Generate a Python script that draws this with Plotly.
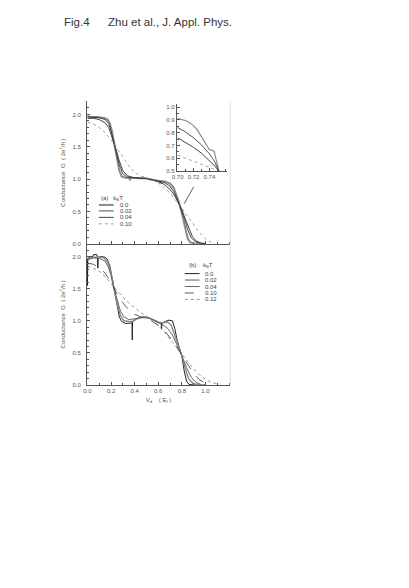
import plotly.graph_objects as go

W, H = 409, 588
def px(x): return x / W
def py(y): return 1 - y / H

# ---------------- data: panel (a) ----------------
v_a00 = [0, 0.03, 0.08, 0.12, 0.15, 0.17, 0.19, 0.21, 0.23, 0.25, 0.27, 0.29, 0.32, 0.355, 0.36, 0.365, 0.40, 0.45, 0.50, 0.55, 0.60, 0.615, 0.62, 0.625, 0.66, 0.70, 0.73, 0.75, 0.77, 0.79, 0.81, 0.83, 0.85, 0.87, 0.90, 1.0]
g_a00 = [1.97, 1.96, 1.96, 1.95, 1.94, 1.92, 1.86, 1.72, 1.52, 1.32, 1.13, 1.04, 1.02, 1.02, 0.98, 1.02, 1.02, 1.02, 1.01, 0.99, 0.98, 0.97, 0.93, 0.97, 0.96, 0.93, 0.87, 0.78, 0.67, 0.55, 0.40, 0.22, 0.08, 0.02, 0.005, 0.0]
v_a02 = [0, 0.05, 0.10, 0.15, 0.18, 0.20, 0.22, 0.24, 0.27, 0.30, 0.34, 0.40, 0.50, 0.60, 0.65, 0.70, 0.73, 0.76, 0.79, 0.82, 0.85, 0.88, 0.92, 0.96, 1.0]
g_a02 = [1.96, 1.96, 1.95, 1.92, 1.86, 1.74, 1.58, 1.45, 1.22, 1.08, 1.03, 1.02, 1.01, 0.97, 0.95, 0.89, 0.81, 0.69, 0.56, 0.40, 0.22, 0.09, 0.025, 0.005, 0.0]
v_a04 = [0, 0.05, 0.10, 0.15, 0.18, 0.20, 0.22, 0.24, 0.27, 0.30, 0.34, 0.40, 0.50, 0.60, 0.65, 0.70, 0.74, 0.77, 0.80, 0.83, 0.86, 0.89, 0.92, 0.96, 1.0]
g_a04 = [1.94, 1.94, 1.92, 1.87, 1.80, 1.70, 1.59, 1.47, 1.28, 1.13, 1.05, 1.02, 1.01, 0.96, 0.92, 0.84, 0.74, 0.64, 0.53, 0.38, 0.23, 0.11, 0.045, 0.012, 0.0]
v_a10 = [0, 0.05, 0.10, 0.15, 0.20, 0.24, 0.28, 0.32, 0.36, 0.40, 0.45, 0.50, 0.55, 0.60, 0.65, 0.70, 0.75, 0.80, 0.85, 0.90, 0.95, 1.0, 1.05, 1.08]
g_a10 = [1.88, 1.85, 1.80, 1.72, 1.61, 1.50, 1.38, 1.27, 1.18, 1.10, 1.05, 1.02, 0.99, 0.94, 0.87, 0.78, 0.67, 0.55, 0.42, 0.29, 0.17, 0.08, 0.02, 0.0]

# inset of panel (a)
vi_00 = [0.700, 0.705, 0.710, 0.715, 0.720, 0.725, 0.730, 0.735, 0.7396, 0.7459, 0.749, 0.752]
gi_00 = [0.91, 0.905, 0.895, 0.878, 0.855, 0.82, 0.77, 0.72, 0.67, 0.656, 0.58, 0.50]
vi_02 = [0.700, 0.710, 0.720, 0.730, 0.740, 0.746, 0.752]
gi_02 = [0.84, 0.805, 0.76, 0.705, 0.635, 0.58, 0.50]
vi_04 = [0.700, 0.710, 0.720, 0.730, 0.740, 0.746, 0.752]
gi_04 = [0.76, 0.725, 0.685, 0.64, 0.585, 0.545, 0.50]
vi_10 = [0.700, 0.710, 0.720, 0.730, 0.740, 0.752]
gi_10 = [0.625, 0.602, 0.578, 0.553, 0.528, 0.50]

# ---------------- data: panel (b) ----------------
v_b00 = [0, 0.0, 0.003, 0.03, 0.045, 0.05, 0.08, 0.085, 0.088, 0.091, 0.12, 0.15, 0.17, 0.19, 0.21, 0.23, 0.25, 0.27, 0.29, 0.32, 0.35, 0.378, 0.38, 0.382, 0.40, 0.44, 0.48, 0.52, 0.56, 0.60, 0.625, 0.628, 0.631, 0.66, 0.69, 0.72, 0.74, 0.76, 0.78, 0.80, 0.82, 0.84, 0.86, 0.90, 1.0]
g_b00 = [1.97, 1.55, 1.97, 2.0, 2.0, 2.03, 2.03, 1.99, 1.82, 1.99, 2.0, 1.99, 1.95, 1.85, 1.66, 1.45, 1.22, 1.06, 0.99, 0.96, 0.96, 0.97, 0.70, 0.98, 1.02, 1.05, 1.06, 1.05, 1.01, 0.97, 0.96, 0.87, 0.96, 0.99, 1.01, 1.0, 0.88, 0.70, 0.58, 0.45, 0.22, 0.06, 0.01, 0.0, 0.0]
v_b02 = [0, 0.05, 0.10, 0.14, 0.17, 0.20, 0.22, 0.25, 0.28, 0.31, 0.35, 0.38, 0.42, 0.47, 0.52, 0.56, 0.60, 0.64, 0.68, 0.71, 0.74, 0.77, 0.80, 0.83, 0.86, 0.90, 0.95]
g_b02 = [1.96, 1.99, 1.99, 1.98, 1.92, 1.75, 1.55, 1.28, 1.08, 1.0, 0.99, 0.99, 1.03, 1.06, 1.05, 1.02, 0.98, 0.97, 0.98, 0.93, 0.78, 0.62, 0.46, 0.25, 0.09, 0.02, 0.0]
v_b04 = [0, 0.05, 0.10, 0.15, 0.18, 0.20, 0.22, 0.25, 0.28, 0.31, 0.35, 0.40, 0.46, 0.52, 0.58, 0.63, 0.68, 0.72, 0.76, 0.80, 0.84, 0.88, 0.92, 0.96]
g_b04 = [1.95, 1.98, 1.97, 1.93, 1.82, 1.70, 1.53, 1.32, 1.15, 1.06, 1.02, 1.03, 1.05, 1.04, 1.0, 0.95, 0.88, 0.78, 0.63, 0.46, 0.27, 0.12, 0.04, 0.01]
v_b10 = [0, 0.05, 0.10, 0.15, 0.20, 0.22, 0.25, 0.30, 0.35, 0.40, 0.45, 0.50, 0.55, 0.60, 0.65, 0.70, 0.75, 0.80, 0.85, 0.90, 0.95, 1.0, 1.05]
g_b10 = [1.90, 1.88, 1.83, 1.74, 1.60, 1.52, 1.42, 1.28, 1.17, 1.10, 1.06, 1.03, 0.99, 0.93, 0.85, 0.74, 0.61, 0.46, 0.31, 0.18, 0.08, 0.03, 0.01]
v_b12 = [0, 0.05, 0.10, 0.15, 0.20, 0.25, 0.30, 0.35, 0.40, 0.45, 0.50, 0.55, 0.60, 0.65, 0.70, 0.75, 0.80, 0.85, 0.90, 0.95, 1.0, 1.05, 1.1]
g_b12 = [1.85, 1.82, 1.77, 1.69, 1.58, 1.47, 1.37, 1.28, 1.20, 1.13, 1.07, 1.00, 0.93, 0.83, 0.72, 0.60, 0.48, 0.36, 0.25, 0.16, 0.09, 0.04, 0.02]

labels_a = ["0.0", "0.02", "0.04", "0.10"]
labels_b = ["0.0", "0.02", "0.04", "0.10", "0.12"]

x_ticks = [0.0, 0.2, 0.4, 0.6, 0.8, 1.0]
y_ticks = [0.0, 0.5, 1.0, 1.5, 2.0]
inset_xticks = [0.70, 0.72, 0.74]
inset_yticks = [0.5, 0.6, 0.7, 0.8, 0.9, 1.0]

# arrow in panel (a): from label position to the crossing point
arrow_v = [0.90, 0.82]
arrow_g = [0.88, 0.62]

# ---------------- styles ----------------
sty_a = [dict(color="#8a8a8a", width=2.0, dash="solid"),
         dict(color="#222222", width=0.8, dash="solid"),
         dict(color="#444444", width=1.0, dash="solid"),
         dict(color="#888888", width=0.8, dash="dot")]
sty_b = [dict(color="#222222", width=1.0, dash="solid"),
         dict(color="#8a8a8a", width=1.4, dash="solid"),
         dict(color="#666666", width=1.0, dash="solid"),
         dict(color="#333333", width=0.8, dash="dash"),
         dict(color="#777777", width=0.8, dash="dot")]

fig = go.Figure()

for (v, g), s in zip([(v_a00, g_a00), (v_a02, g_a02), (v_a04, g_a04), (v_a10, g_a10)], sty_a):
    fig.add_trace(go.Scatter(x=v, y=g, mode="lines", line=s, xaxis="x", yaxis="y", showlegend=False))
for (v, g), s in zip([(vi_00, gi_00), (vi_02, gi_02), (vi_04, gi_04), (vi_10, gi_10)], sty_a):
    s2 = dict(s); s2["width"] = min(s["width"], 1.2)
    fig.add_trace(go.Scatter(x=v, y=g, mode="lines", line=s2, xaxis="x3", yaxis="y3", showlegend=False))
for (v, g), s in zip([(v_b00, g_b00), (v_b02, g_b02), (v_b04, g_b04), (v_b10, g_b10), (v_b12, g_b12)], sty_b):
    fig.add_trace(go.Scatter(x=v, y=g, mode="lines", line=s, xaxis="x2", yaxis="y2", showlegend=False))
fig.add_trace(go.Scatter(x=arrow_v, y=arrow_g, mode="lines", line=dict(color="#333333", width=0.8),
                         xaxis="x", yaxis="y", showlegend=False))

FONT = "Liberation Sans, Arial, sans-serif"
tickfont = dict(family=FONT, size=6, color="#555555")
axcol = "#555555"

x_dom = [px(83), px(228)]
common_x = dict(range=[-0.004, 1.21], domain=x_dom, showline=True, linecolor=axcol, linewidth=1,
                ticks="inside", ticklen=3, tickcolor=axcol, tickvals=x_ticks, tickformat=".1f",
                minor=dict(dtick=0.1, ticks="inside", ticklen=2, tickcolor=axcol),
                showgrid=False, zeroline=False, tickfont=tickfont)
common_y = dict(range=[0, 2.2], showline=True, linecolor=axcol, linewidth=1,
                ticks="inside", ticklen=3, tickcolor=axcol, tickvals=y_ticks, tickformat=".1f",
                minor=dict(dtick=0.1, ticks="inside", ticklen=2, tickcolor=axcol),
                showgrid=False, zeroline=False, tickfont=tickfont, ticklabelstandoff=4,
                title=dict(text="Conductance  G  ( 2e<sup>2</sup>/h )", font=dict(family=FONT, size=6, color="#555555"), standoff=6))

fig.update_layout(
    width=W, height=H, margin=dict(l=0, r=0, t=0, b=0),
    paper_bgcolor="white", plot_bgcolor="rgba(0,0,0,0)",
    xaxis=dict(common_x, anchor="y", showticklabels=False),
    yaxis=dict(common_y, domain=[py(245), py(102)], anchor="x"),
    xaxis2=dict(common_x, anchor="y2",
                title=dict(text="V<sub>d</sub>    ( E<sub>f</sub> )", font=dict(family=FONT, size=6, color="#555555"), standoff=4)),
    yaxis2=dict(common_y, domain=[py(387), py(245)], anchor="x2"),
    xaxis3=dict(range=[0.699, 0.7625], domain=[px(174), px(225)], anchor="y3", showline=True, linecolor=axcol,
                linewidth=1, ticks="inside", ticklen=3, tickcolor=axcol, tickvals=inset_xticks, tickformat=".2f",
                minor=dict(dtick=0.01, ticks="inside", ticklen=2, tickcolor=axcol),
                showgrid=False, zeroline=False, tickfont=tickfont),
    yaxis3=dict(range=[0.5, 1.02], domain=[py(172), py(105)], anchor="x3", showline=True, linecolor=axcol,
                linewidth=1, ticks="inside", ticklen=3, tickcolor=axcol, tickvals=inset_yticks, tickformat=".1f",
                minor=dict(dtick=0.05, ticks="inside", ticklen=2, tickcolor=axcol),
                showgrid=False, zeroline=False, tickfont=tickfont),
    showlegend=False,
)

annots = []
shapes = []
annots.append(dict(text="Fig.4", x=px(58), y=py(22), xref="paper", yref="paper",
                   xanchor="left", yanchor="middle", showarrow=False, font=dict(family=FONT, size=11.5, color="#333333")))
annots.append(dict(text="Zhu et al., J. Appl. Phys.", x=px(102), y=py(22), xref="paper", yref="paper",
                   xanchor="left", yanchor="middle", showarrow=False, font=dict(family=FONT, size=11.5, color="#333333")))

# legend (a)
annots.append(dict(text="(a)   k<sub>B</sub>T", x=px(95), y=py(200), xref="paper", yref="paper", xanchor="left",
                   yanchor="middle", showarrow=False, font=dict(family=FONT, size=6, color="#444444")))
rows_a = [206, 212, 218.5, 225]
for lab, s, yy in zip(labels_a, sty_a, rows_a):
    shapes.append(dict(type="line", xref="paper", yref="paper", x0=px(95), x1=px(110), y0=py(yy), y1=py(yy),
                       line=dict(color=s["color"], width=s["width"], dash=s["dash"])))
    annots.append(dict(text=lab, x=px(114), y=py(yy), xref="paper", yref="paper", xanchor="left", yanchor="middle",
                       showarrow=False, font=dict(family=FONT, size=6, color="#444444")))

# legend (b)
annots.append(dict(text="(b)    k<sub>B</sub>T", x=px(184), y=py(267), xref="paper", yref="paper", xanchor="left",
                   yanchor="middle", showarrow=False, font=dict(family=FONT, size=6, color="#444444")))
rows_b = [275, 281.5, 288, 294.5, 301]
for lab, s, yy in zip(labels_b, sty_b, rows_b):
    shapes.append(dict(type="line", xref="paper", yref="paper", x0=px(182), x1=px(197), y0=py(yy), y1=py(yy),
                       line=dict(color=s["color"], width=s["width"], dash=s["dash"])))
    annots.append(dict(text=lab, x=px(200), y=py(yy), xref="paper", yref="paper", xanchor="left", yanchor="middle",
                       showarrow=False, font=dict(family=FONT, size=6, color="#444444")))

# faint right frame line
shapes.append(dict(type="line", xref="paper", yref="paper", x0=px(228), x1=px(228), y0=py(387), y1=py(102),
                   line=dict(color="#dddddd", width=1)))

fig.update_layout(annotations=annots, shapes=shapes)
fig.write_html("out.html", config={"displayModeBar": False},
               post_script="document.body.style.margin='0px';document.body.style.overflow='hidden';")
